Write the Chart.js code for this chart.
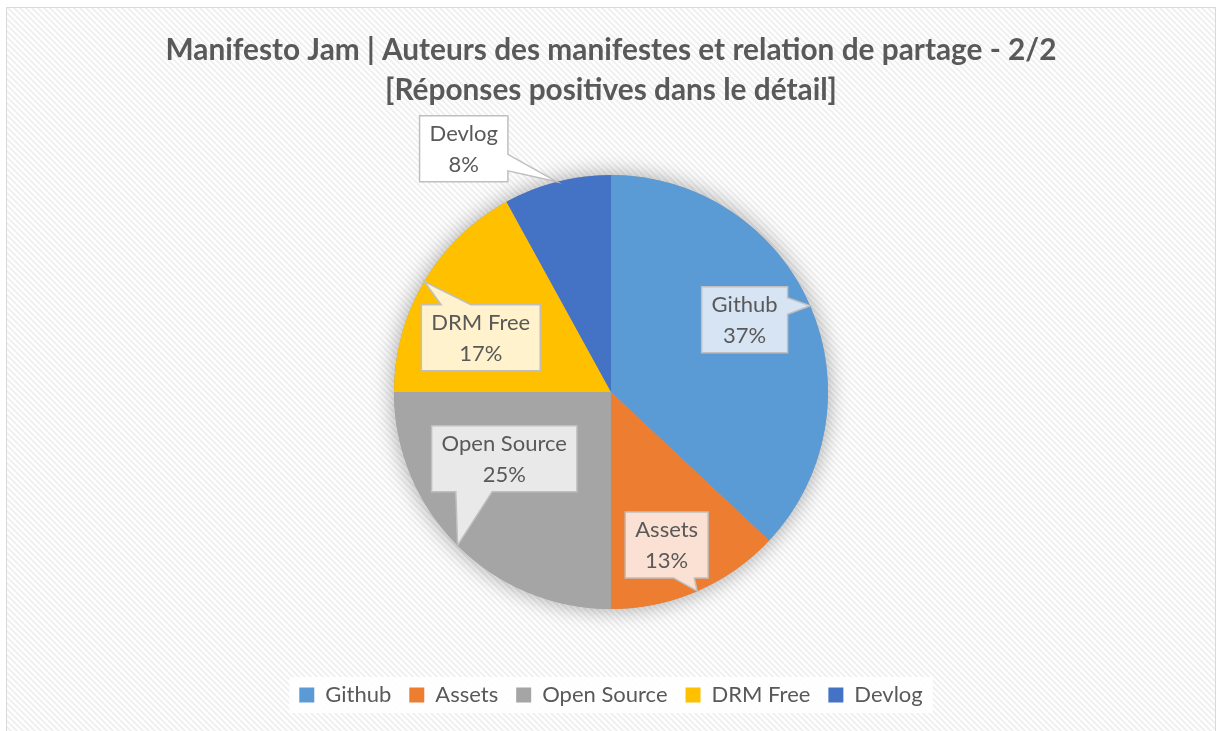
<!DOCTYPE html>
<html>
<head>
<meta charset="utf-8">
<script src="https://cdn.jsdelivr.net/npm/chart.js@4.4.1/dist/chart.umd.min.js"></script>
<style>
  html, body { margin: 0; padding: 0; background: #fff; overflow: hidden; }
</style>
</head>
<body>
<canvas id="pieChart" width="1222" height="731"></canvas>
<script>
const labels = ['Github', 'Assets', 'Open Source', 'DRM Free', 'Devlog'];
const shares = [37, 13, 25, 17, 8];
const sliceColors = ['#5b9bd5', '#ed7d31', '#a5a5a5', '#ffc000', '#4472c4'];
const calloutFills = ['#d6e4f3', '#fbe1d3', '#e9e9e9', '#fff2cc', '#ffffff'];
// where each callout box sits: angle shift (deg) and distance in radii
const calloutShift = [-5, 3.4, 13, -8, -16.8];
const calloutDist = [0.70, 0.75, 0.58, 0.65, 1.31];

const textGrey = '#595959';

// diagonal stripe background like the Excel chart area
function stripePattern(ctx) {
    const c = document.createElement('canvas');
    c.width = 6; c.height = 6;
    const p = c.getContext('2d');
    p.fillStyle = '#ffffff';
    p.fillRect(0, 0, 6, 6);
    p.strokeStyle = '#f0f0f0';
    p.lineWidth = 2;
    p.beginPath();
    p.moveTo(-1, -1); p.lineTo(7, 7);
    p.moveTo(-1, 5); p.lineTo(1, 7);
    p.moveTo(5, -1); p.lineTo(7, 1);
    p.stroke();
    return ctx.createPattern(c, 'repeat');
}

const backgroundPlugin = {
    id: 'chartBackground',
    beforeDraw(chart) {
        const ctx = chart.ctx;
        ctx.save();
        ctx.fillStyle = '#ffffff';
        ctx.fillRect(0, 0, chart.width, chart.height);
        ctx.fillStyle = stripePattern(ctx);
        ctx.fillRect(7, 8, chart.width - 14, chart.height);
        ctx.strokeStyle = '#d9d9d9';
        ctx.lineWidth = 1;
        ctx.strokeRect(6.5, 7.5, chart.width - 13, chart.height + 10);
        // white band behind the legend
        const boxes = chart.legend.legendHitBoxes;
        if (boxes && boxes.length) {
            const left = Math.min(...boxes.map(b => b.left)) - 10;
            const right = Math.max(...boxes.map(b => b.left + b.width)) + 10;
            const top = boxes[0].top - 7;
            ctx.fillStyle = 'rgba(255,255,255,0.9)';
            ctx.fillRect(left, top, right - left, boxes[0].height + 14);
        }
        ctx.restore();
    },
    beforeDatasetsDraw(chart) {
        // soft shadow around the pie
        const arc = chart.getDatasetMeta(0).data[0];
        if (!arc) return;
        const ctx = chart.ctx;
        ctx.save();
        ctx.shadowColor = 'rgba(0,0,0,0.35)';
        ctx.shadowBlur = 22;
        ctx.fillStyle = '#a0a0a0';
        ctx.beginPath();
        ctx.arc(arc.x, arc.y, arc.outerRadius, 0, Math.PI * 2);
        ctx.fill();
        ctx.restore();
    }
};

const calloutPlugin = {
    id: 'callouts',
    afterDatasetsDraw(chart) {
        const ctx = chart.ctx;
        const arcs = chart.getDatasetMeta(0).data;
        ctx.save();
        ctx.font = '22px Lato';
        arcs.forEach((arc, i) => {
            const mid = (arc.startAngle + arc.endAngle) / 2;
            const tipX = arc.x + Math.cos(mid) * arc.outerRadius;
            const tipY = arc.y + Math.sin(mid) * arc.outerRadius;
            const a = mid + calloutShift[i] * Math.PI / 180;
            const cx = arc.x + Math.cos(a) * arc.outerRadius * calloutDist[i];
            const cy = arc.y + Math.sin(a) * arc.outerRadius * calloutDist[i];
            const line1 = labels[i];
            const line2 = shares[i] + '%';
            const w = Math.max(ctx.measureText(line1).width, ctx.measureText(line2).width) + 20;
            const h = 66;
            const l = cx - w / 2, t = cy - h / 2, r = cx + w / 2, b = cy + h / 2;
            const dx = tipX - cx, dy = tipY - cy;

            ctx.beginPath();
            ctx.moveTo(l, t);
            if (Math.abs(dy) * w > Math.abs(dx) * h) {
                const x1 = dx < 0 ? l + w * 2 / 12 : l + w * 7 / 12;
                const x2 = dx < 0 ? l + w * 5 / 12 : l + w * 10 / 12;
                if (dy < 0) {
                    ctx.lineTo(x1, t); ctx.lineTo(tipX, tipY); ctx.lineTo(x2, t);
                    ctx.lineTo(r, t); ctx.lineTo(r, b); ctx.lineTo(l, b);
                } else {
                    ctx.lineTo(r, t); ctx.lineTo(r, b);
                    ctx.lineTo(x2, b); ctx.lineTo(tipX, tipY); ctx.lineTo(x1, b);
                    ctx.lineTo(l, b);
                }
            } else {
                const y1 = dy < 0 ? t + h * 2 / 12 : t + h * 7 / 12;
                const y2 = dy < 0 ? t + h * 5 / 12 : t + h * 10 / 12;
                ctx.lineTo(r, t);
                if (dx > 0) {
                    ctx.lineTo(r, y1); ctx.lineTo(tipX, tipY); ctx.lineTo(r, y2);
                    ctx.lineTo(r, b); ctx.lineTo(l, b);
                } else {
                    ctx.lineTo(r, b); ctx.lineTo(l, b);
                    ctx.lineTo(l, y2); ctx.lineTo(tipX, tipY); ctx.lineTo(l, y1);
                }
            }
            ctx.closePath();
            ctx.fillStyle = calloutFills[i];
            ctx.fill();
            ctx.strokeStyle = '#bfbfbf';
            ctx.lineWidth = 1.5;
            ctx.stroke();

            ctx.fillStyle = textGrey;
            ctx.textAlign = 'center';
            ctx.textBaseline = 'middle';
            ctx.fillText(line1, cx, cy - 15);
            ctx.fillText(line2, cx, cy + 16);
        });
        ctx.restore();
    }
};

const ctxPie = document.getElementById('pieChart').getContext('2d');
const pieChart = new Chart(ctxPie, {
    type: 'pie',
    data: {
        labels: labels,
        datasets: [{
            data: shares,
            backgroundColor: sliceColors,
            borderColor: sliceColors,
            borderWidth: 0
        }]
    },
    options: {
        responsive: false,
        animation: false,
        layout: {
            padding: { top: 0, bottom: 15, left: 0, right: 0 }
        },
        plugins: {
            title: {
                display: true,
                text: ['Manifesto Jam | Auteurs des manifestes et relation de partage - 2/2',
                       '[Réponses positives dans le détail]'],
                color: textGrey,
                font: { family: 'Lato', size: 29.8, weight: 'bold', lineHeight: '40px' },
                padding: { top: 30, bottom: 65 }
            },
            legend: {
                position: 'bottom',
                title: {
                    display: true,
                    text: '',
                    font: { size: 10, lineHeight: '20px' },
                    padding: 18.5
                },
                labels: {
                    color: textGrey,
                    boxWidth: 15,
                    boxHeight: 15,
                    padding: 18,
                    font: { family: 'Lato', size: 22 }
                }
            },
            tooltip: { enabled: false }
        }
    },
    plugins: [backgroundPlugin, calloutPlugin]
});
</script>
</body>
</html>
